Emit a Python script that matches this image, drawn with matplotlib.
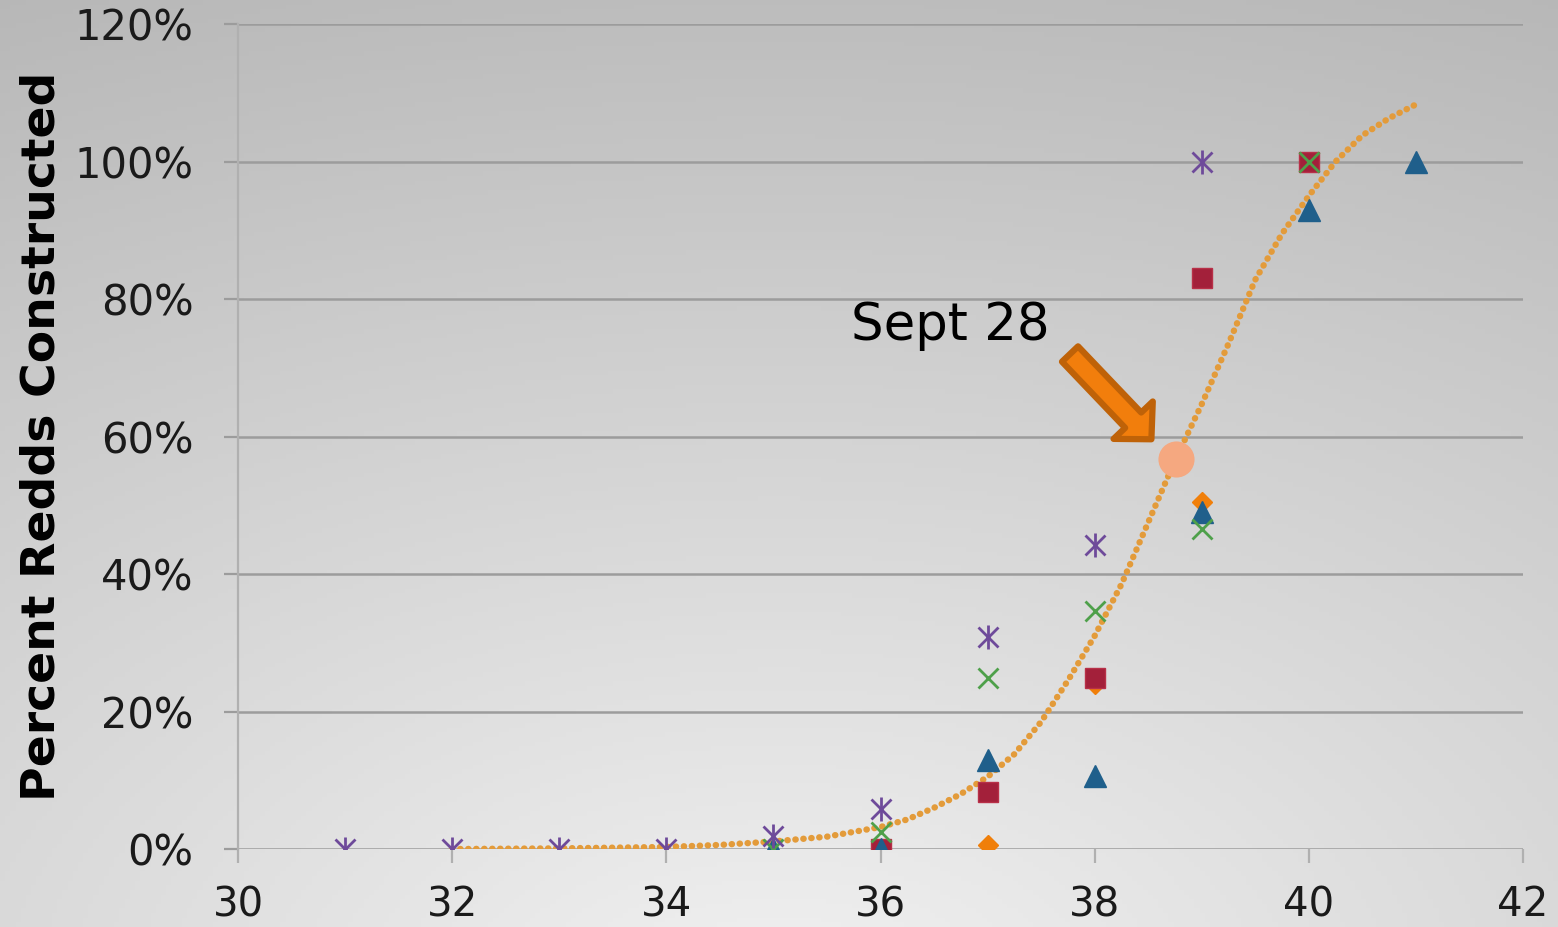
import matplotlib
matplotlib.use("Agg")
import matplotlib.pyplot as plt
import numpy as np
from matplotlib.ticker import FuncFormatter

# ── data (week number vs. percent of redds constructed) ──────────────────────
wk_star = [31, 32, 33, 34, 35, 36, 37, 38, 39]
pct_star = [0, 0, 0, 0, 1.9, 5.8, 30.8, 44.2, 100]

wk_cross = [35, 36, 37, 38, 39, 40]
pct_cross = [0, 2.5, 24.9, 34.6, 46.5, 100]

wk_square = [36, 37, 38, 39, 40]
pct_square = [0, 8.3, 24.9, 83, 100]

wk_tri = [35, 36, 37, 38, 39, 40, 41]
pct_tri = [0, 0, 13, 10.6, 49, 93, 100]

wk_diamond = [37, 38, 39]
pct_diamond = [0.6, 24, 50.5]

# fitted trend
wk_fit = [32, 33, 34, 34.5, 35, 35.5, 36, 36.25, 36.5, 36.75, 37, 37.25, 37.5,
          37.75, 38, 38.25, 38.5, 38.75, 39, 39.25, 39.5, 39.75, 40, 40.25,
          40.5, 40.75, 41]
pct_fit = [0, 0.1, 0.3, 0.6, 1.1, 1.8, 3.2, 4.3, 6.0, 8.0, 10.5, 13.8, 18.5,
           24.5, 31, 38.5, 47.5, 56.5, 64.7, 73.5, 82.8, 89.5, 95, 100,
           103.8, 106.3, 108.3]

sept28_wk, sept28_pct = 38.76, 56.7
yticks = [0, 20, 40, 60, 80, 100, 120]
xticks = [30, 32, 34, 36, 38, 40, 42]

fig = plt.figure(figsize=(15.58, 9.27), dpi=100)

# ── gradient backdrop ───────────────────────────────────────────────────────
bg = fig.add_axes([0, 0, 1, 1], zorder=-10)
u, v = np.meshgrid(np.linspace(0, 1, 300), np.linspace(1, 0, 200))
d = np.sqrt((u - 0.5) ** 2 + (v + 0.1) ** 2)
shade = np.clip(0.95 - 0.19 * d, 0, 1)
bg.imshow(np.dstack([shade] * 3), aspect="auto", extent=[0, 1, 0, 1])
bg.axis("off")

ax = fig.add_axes([0.1528, 0.0841, 0.8247, 0.8900])
ax.patch.set_alpha(0)

ax.plot(wk_fit, pct_fit, color="#E39B3A", lw=4.6, ls=(0, (0.05, 1.2)),
        dash_capstyle="round", solid_capstyle="round", zorder=2)

ax.plot(wk_diamond, pct_diamond, ls="none", marker="D", ms=10.5,
        color="#F07F0A", zorder=3)
ax.plot(wk_square, pct_square, ls="none", marker="s", ms=14.5,
        color="#A3203A", mec="#B83048", zorder=4)
ax.plot(wk_tri, pct_tri, ls="none", marker="^", ms=16.5,
        color="#1F5F8B", zorder=5)
ax.plot(wk_cross, pct_cross, ls="none", marker="x", ms=14, mew=2,
        color="#4EA04A", zorder=6)
ax.plot(wk_star, pct_star, ls="none", marker="x", ms=14, mew=2,
        color="#6E4A9A", zorder=7)
ax.plot(wk_star, pct_star, ls="none", marker="|", ms=17.5, mew=2,
        color="#6E4A9A", zorder=7)

ax.plot([sept28_wk], [sept28_pct], ls="none", marker="o", ms=25,
        color="#F5A880", zorder=8)

ax.text(35.72, 74, "Sept 28", fontsize=37, color="black",
        ha="left", va="baseline", zorder=9)
ax.annotate("", xy=(38.53, 59.6), xytext=(37.77, 72.0),
            arrowprops=dict(arrowstyle="simple,head_length=0.95,head_width=1.95,tail_width=0.8",
                            mutation_scale=20, fc="#F27E0C", ec="#BF6208", lw=4.5,
                            shrinkA=0, shrinkB=0),
            zorder=9)

# ── axes styling ────────────────────────────────────────────────────────────
ax.set_xlim(30, 42)
ax.set_ylim(0, 120)
ax.set_xticks(xticks)
ax.set_yticks(yticks)
ax.yaxis.set_major_formatter(FuncFormatter(lambda val, _: f"{val:.0f}%"))
ax.grid(axis="y", color="#9c9c9c", lw=1.8)
ax.set_axisbelow(True)
for side in ("top", "right", "bottom"):
    ax.spines[side].set_visible(False)
ax.spines["left"].set_color("#b0b0b0")
ax.spines["left"].set_linewidth(1.6)
ax.tick_params(axis="y", length=10, width=1.6, color="#9c9c9c", pad=22,
               labelsize=30, labelcolor="#1a1a1a")
ax.tick_params(axis="x", length=10, width=1.6, color="#b0b0b0", pad=16,
               labelsize=29, labelcolor="#1a1a1a")
ax.set_ylabel("Percent Redds Constructed", fontsize=34, fontweight="bold",
              family=["Liberation Sans Narrow", "DejaVu Sans"])
ax.yaxis.set_label_coords(-0.135, 0.5)

fig.savefig("out.png", dpi=100)
